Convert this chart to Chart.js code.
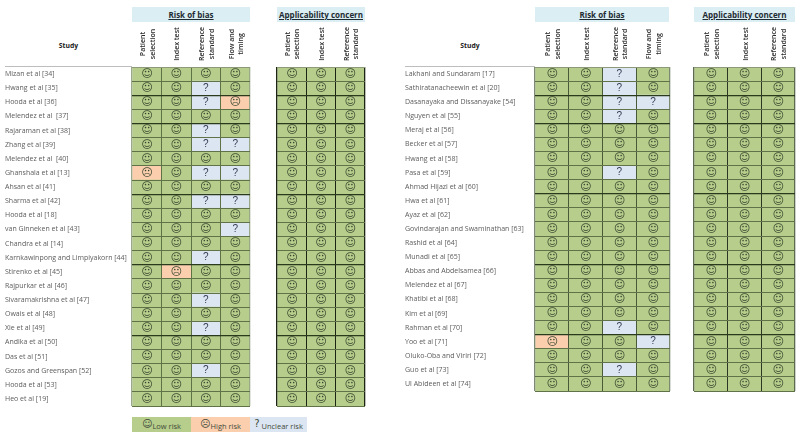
<!DOCTYPE html>
<html lang="en">
<head>
  <meta charset="UTF-8" />
  <title>Risk of bias and applicability concern</title>
  <script src="https://cdn.jsdelivr.net/npm/chart.js"></script>
  <style>
    html, body { margin: 0; padding: 0; background: #fff; }
    body { position: relative; width: 800px; height: 433px; overflow: hidden; font-family: "Open Sans", sans-serif; color: #3a3a3a; }
    canvas { position: absolute; top: 0; }
    .band { position: absolute; top: 7px; height: 15px; line-height: 15px; background: #daeef3; text-align: center; font-size: 8px; font-weight: 700; text-decoration: underline; color: #1f2c33; white-space: nowrap; }
    .study { position: absolute; top: 41px; font-size: 6.8px; font-weight: 700; color: #222; text-align: center; }
    .rule { position: absolute; top: 65.5px; height: 1.5px; background: #bdbdbd; }
    .key { position: absolute; top: 417px; height: 15px; line-height: 17px; font-size: 7.5px; text-align: center; color: #3f4a3a; white-space: nowrap; }
    .key b { font-family: "DejaVu Sans"; font-weight: 400; font-size: 10px; position: relative; top: -2px; }
  </style>
</head>
<body>
  <div class="band" style="left:132px;width:118px">Risk of bias</div>
  <div class="band" style="left:277px;width:88px">Applicability concern</div>
  <div class="band" style="left:535px;width:134px">Risk of bias</div>
  <div class="band" style="left:694px;width:101px">Applicability concern</div>
  <div class="study" style="left:5px;width:127px">Study</div>
  <div class="study" style="left:405px;width:130px">Study</div>
  <div class="rule" style="left:5px;width:127px"></div>
  <div class="rule" style="left:405px;width:130px"></div>
  <div class="key" style="left:132px;width:59px;background:#b6cd8b"><b>☺</b>Low risk</div>
  <div class="key" style="left:191px;width:59px;background:#fbcfae"><b>☹</b>High risk</div>
  <div class="key" style="left:250px;width:57px;background:#dce6f2"><b>?</b> Unclear risk</div>

  <canvas id="robA" width="252" height="433" style="left:0"></canvas>
  <canvas id="appA" width="92" height="433" style="left:275px"></canvas>
  <canvas id="robB" width="272" height="433" style="left:400px"></canvas>
  <canvas id="appB" width="105" height="433" style="left:692px"></canvas>

  <script>
    // 0 = low risk, 1 = high risk, 2 = unclear risk
    const studiesA = ['Mizan et al [34]', 'Hwang et al [35]', 'Hooda et al [36]', 'Melendez et al  [37]', 'Rajaraman et al [38]', 'Zhang et al [39]', 'Melendez et al  [40]', 'Ghanshala et al [13]', 'Ahsan et al [41]', 'Sharma et al [42]', 'Hooda et al [18]', 'van Ginneken et al [43]', 'Chandra et al [14]', 'Karnkawinpong and Limpiyakorn [44]', 'Stirenko et al [45]', 'Rajpurkar et al [46]', 'Sivaramakrishna et al [47]', 'Owais et al [48]', 'Xie et al [49]', 'Andika et al [50]', 'Das et al [51]', 'Gozos and Greenspan [52]', 'Hooda et al [53]', 'Heo et al [19]'];
    const studiesB = ['Lakhani and Sundaram [17]', 'Sathiratanacheewin et al [20]', 'Dasanayaka and Dissanayake [54]', 'Nguyen et al [55]', 'Meraj et al [56]', 'Becker et al [57]', 'Hwang et al [58]', 'Pasa et al [59]', 'Ahmad Hijazi et al [60]', 'Hwa et al [61]', 'Ayaz et al [62]', 'Govindarajan and Swaminathan [63]', 'Rashid et al [64]', 'Munadi et al [65]', 'Abbas and Abdelsamea [66]', 'Melendez et al [67]', 'Khatibi et al [68]', 'Kim et al [69]', 'Rahman et al [70]', 'Yoo et al [71]', 'Oluko-Oba and Viriri [72]', 'Guo et al [73]', 'Ul Abideen et al [74]'];

    const robLabels = [['Patient', 'selection'], ['Index test'], ['Reference', 'standard'], ['Flow and', 'timing']];
    const appLabels = [['Patient', 'selection'], ['Index test'], ['Reference', 'standard']];

    const robPatientA = [0,0,0,0,0,0,0,1,0,0,0,0,0,0,0,0,0,0,0,0,0,0,0,0];
    const robIndexA   = [0,0,0,0,0,0,0,0,0,0,0,0,0,0,1,0,0,0,0,0,0,0,0,0];
    const robRefA     = [0,2,2,0,2,2,0,2,0,2,0,0,0,2,0,0,2,0,2,0,0,2,0,0];
    const robFlowA    = [0,0,1,0,0,2,0,2,0,2,0,2,0,0,0,0,0,0,0,0,0,0,0,0];
    const appPatientA = [0,0,0,0,0,0,0,0,0,0,0,0,0,0,0,0,0,0,0,0,0,0,0,0];
    const appIndexA   = [0,0,0,0,0,0,0,0,0,0,0,0,0,0,0,0,0,0,0,0,0,0,0,0];
    const appRefA     = [0,0,0,0,0,0,0,0,0,0,0,0,0,0,0,0,0,0,0,0,0,0,0,0];

    const robPatientB = [0,0,0,0,0,0,0,0,0,0,0,0,0,0,0,0,0,0,0,1,0,0,0];
    const robIndexB   = [0,0,0,0,0,0,0,0,0,0,0,0,0,0,0,0,0,0,0,0,0,0,0];
    const robRefB     = [2,2,2,2,0,0,0,2,0,0,0,0,0,0,0,0,0,0,2,0,0,2,0];
    const robFlowB    = [0,0,2,0,0,0,0,0,0,0,0,0,0,0,0,0,0,0,0,2,0,0,0];
    const appPatientB = [0,0,0,0,0,0,0,0,0,0,0,0,0,0,0,0,0,0,0,0,0,0,0];
    const appIndexB   = [0,0,0,0,0,0,0,0,0,0,0,0,0,0,0,0,0,0,0,0,0,0,0];
    const appRefB     = [0,0,0,0,0,0,0,0,0,0,0,0,0,0,0,0,0,0,0,0,0,0,0];

    const riskColors = ['#b6cd8b', '#fbcfae', '#dce6f2'];
    const riskGlyphs = ['☺', '☹', '?'];
    const heavyLines = [2, 4, 9, 14, 19];

    // faces and the rotated domain headings go on top of the grid
    const cellText = {
      id: 'cellText',
      afterDraw(chart) {
        const ctx = chart.ctx;
        ctx.save();
        ctx.textAlign = 'center';
        ctx.textBaseline = 'middle';
        chart.data.datasets.forEach((ds, i) => {
          chart.getDatasetMeta(i).data.forEach((bar, j) => {
            const r = ds.ratings[j];
            const p = bar.getCenterPoint();
            ctx.font = r === 2 ? '10px "Liberation Sans"' : '11px "DejaVu Sans"';
            ctx.fillStyle = r === 2 ? '#333c52' : '#39462f';
            ctx.fillText(riskGlyphs[r], p.x, p.y);
          });
        });
        const top = chart.scales.top;
        ctx.font = '600 7px "Open Sans"';
        ctx.fillStyle = '#2a2a2a';
        top.getLabels().forEach((lines, i) => {
          ctx.save();
          ctx.translate(top.getPixelForTick(i) + 1, 44);
          ctx.rotate(-Math.PI / 2);
          lines.forEach((line, k) => {
            ctx.fillText(line, 0, (k - (lines.length - 1) / 2) * 9.5);
          });
          ctx.restore();
        });
        ctx.restore();
      }
    };

    function drawPanel(id, studies, labels, columns, plotBottom, yWidth, showNames, vColor, edgeColor, bottomColor) {
      const rows = studies.length;
      const cols = labels.length;
      new Chart(document.getElementById(id), {
        type: 'bar',
        data: {
          labels: studies,
          datasets: columns.map(c => ({
            data: studies.map(() => 1),
            ratings: c,
            backgroundColor: c.map(r => riskColors[r]),
            borderWidth: 0,
            barPercentage: 1,
            categoryPercentage: 1
          }))
        },
        options: {
          indexAxis: 'y',
          responsive: false,
          animation: false,
          layout: { padding: { left: showNames ? 5 : 2, right: 2, top: 0, bottom: 433 - plotBottom } },
          plugins: { legend: { display: false }, tooltip: { enabled: false } },
          scales: {
            x: {
              stacked: true, min: 0, max: cols,
              ticks: { display: false, stepSize: 1 },
              border: { display: false },
              grid: {
                z: 1, drawTicks: false,
                color: c => (c.index === 0 || c.index === cols ? edgeColor : vColor),
                lineWidth: c => (c.index === 0 || c.index === cols ? 1.3 : 1)
              },
              afterFit: s => { s.height = 0; }
            },
            top: {
              type: 'category', position: 'top', labels: labels, offset: true,
              ticks: { display: false },
              border: { display: false },
              grid: { display: false },
              afterFit: s => { s.height = 67; }
            },
            y: {
              stacked: true, offset: true,
              ticks: {
                display: showNames, autoSkip: false, crossAlign: 'far', padding: 0,
                color: '#5c5c5c', font: { family: '"Open Sans"', size: 7 }
              },
              border: { display: false },
              grid: {
                z: 1, offset: true, drawTicks: false,
                color: c => (c.index === rows ? bottomColor : heavyLines.includes(c.index) ? '#2a3a1c' : c.index === 0 ? '#8b9a78' : '#5f7248'),
                lineWidth: c => (heavyLines.includes(c.index) ? 1.2 : 1)
              },
              afterFit: s => { s.width = yWidth; }
            }
          }
        },
        plugins: [cellText]
      });
    }

    drawPanel('robA', studiesA, robLabels, [robPatientA, robIndexA, robRefA, robFlowA], 406, 127, true, '#5d7245', '#9aa98a', '#2a2a2a');
    drawPanel('appA', studiesA, appLabels, [appPatientA, appIndexA, appRefA], 406, 0, false, '#1c2414', '#1c2414', '#2a2a2a');
    drawPanel('robB', studiesB, robLabels, [robPatientB, robIndexB, robRefB, robFlowB], 391, 130, true, '#4a5a38', '#7d8a72', '#7d8a72');
    drawPanel('appB', studiesB, appLabels, [appPatientB, appIndexB, appRefB], 391, 0, false, '#2c3622', '#5c6a50', '#7d8a72');
  </script>
</body>
</html>
